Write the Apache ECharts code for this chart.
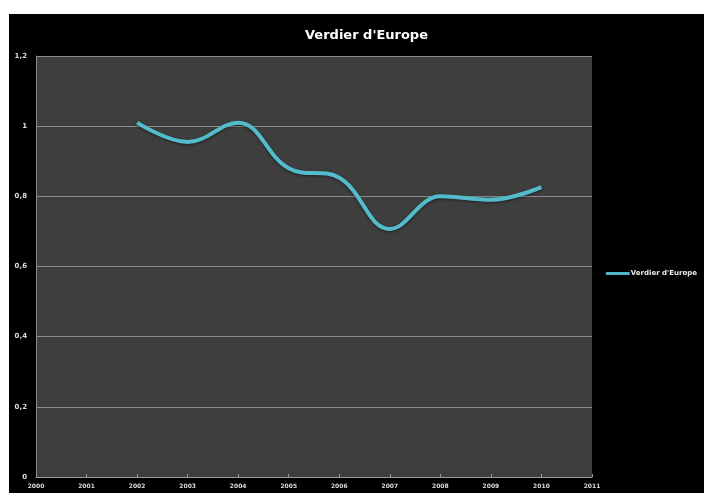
<!DOCTYPE html>
<html>
<head>
<meta charset="utf-8">
<style>
  html, body { margin: 0; padding: 0; background: #fff; }
  #chart { position: absolute; left: 9px; top: 14px; width: 695px; height: 479px; background: #000; }
</style>
<script src="https://cdn.jsdelivr.net/npm/echarts@6/dist/echarts.min.js"></script>
</head>
<body>
<div id="chart"></div>
<script>
var years = [2002, 2003, 2004, 2005, 2006, 2007, 2008, 2009, 2010];
var values = [1.01, 0.955, 1.01, 0.88, 0.853, 0.707, 0.80, 0.79, 0.826];
var seriesName = "Verdier d'Europe";

var myChart = echarts.init(document.getElementById('chart'));

var points = years.map(function (y, i) { return [y, values[i]]; });

var option = {
    backgroundColor: '#000',
    textStyle: { fontFamily: 'DejaVu Sans' },
    title: {
        text: "Verdier d'Europe",
        left: 291,
        top: 10,
        textStyle: { color: '#fff', fontSize: 13, fontWeight: 'bold', fontFamily: 'DejaVu Sans' }
    },
    legend: {
        right: 2,
        top: 251,
        orient: 'vertical',
        icon: 'roundRect',
        itemWidth: 24,
        itemHeight: 3,
        itemGap: 2,
        textStyle: { color: '#eee', fontSize: 7, fontWeight: 'bold', padding: [0, 0, 0, -4] },
        data: [seriesName]
    },
    grid: {
        left: 27,
        top: 42,
        right: 112,
        bottom: 16,
        show: true,
        backgroundColor: '#3e3e3e',
        borderWidth: 0
    },
    xAxis: {
        type: 'value',
        min: 2000,
        max: 2011,
        interval: 1,
        axisLine: { show: true, lineStyle: { color: '#9a9a9a', width: 1 } },
        axisTick: { show: true, length: 3, inside: true, lineStyle: { color: '#9a9a9a' } },
        splitLine: { show: false },
        axisLabel: {
            color: '#ddd',
            fontSize: 6,
            fontWeight: 'bold',
            margin: 6,
            formatter: function (v) { return String(v); }
        }
    },
    yAxis: {
        type: 'value',
        min: 0,
        max: 1.2,
        interval: 0.2,
        axisLine: { show: true, lineStyle: { color: '#8a8a8a', width: 1 } },
        axisTick: { show: false },
        splitLine: { show: true, lineStyle: { color: '#8c8c8c', width: 1 } },
        axisLabel: {
            color: '#ddd',
            fontSize: 7,
            fontWeight: 'bold',
            margin: 9,
            formatter: function (v) { return String(Math.round(v * 10) / 10).replace('.', ','); }
        }
    },
    series: [{
        name: seriesName,
        type: 'line',
        smooth: 0.4,
        showSymbol: false,
        data: points,
        color: '#4bb6c8',
        lineStyle: {
            width: 4,
            color: '#52bccd',
            shadowColor: 'rgba(0,0,0,0.5)',
            shadowBlur: 3,
            shadowOffsetY: 1
        }
    }]
};

myChart.setOption(option);
</script>
</body>
</html>
